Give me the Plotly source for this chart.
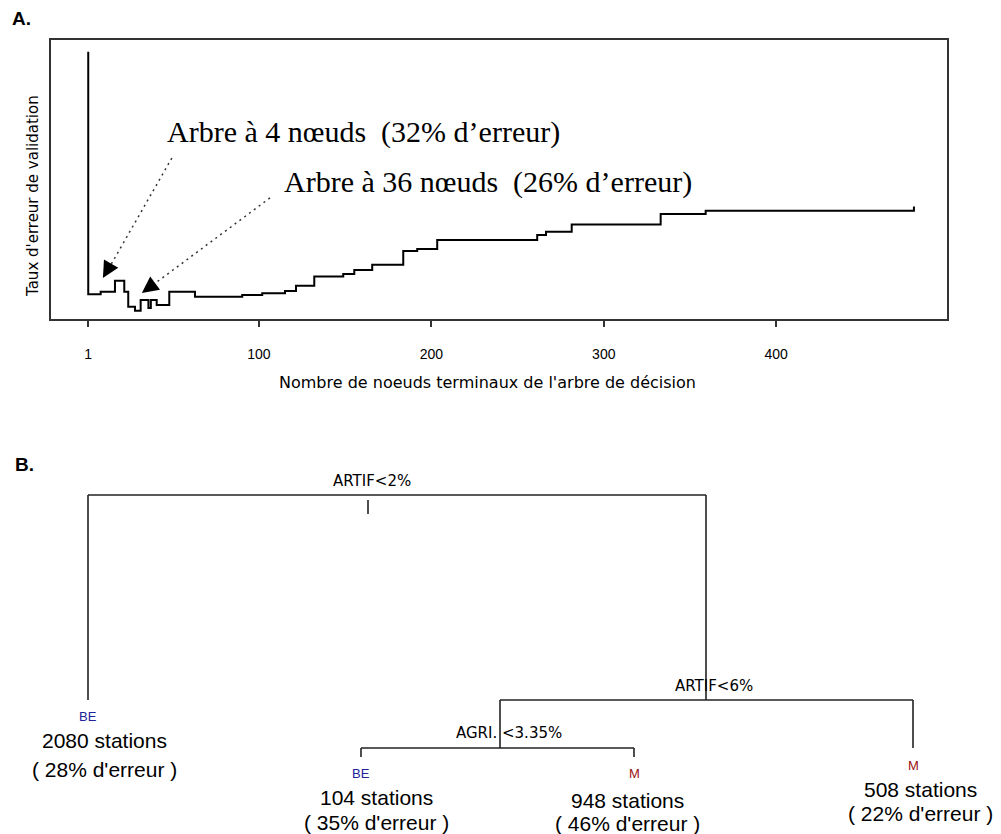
import plotly.graph_objects as go

# ---------------- Panel A data ----------------
n_terminal_nodes = [1, 1, 8.2, 16.5, 21.9, 24.2, 28.1, 31.4, 35.9, 37.3, 40.7, 48, 62.9,
                    90.3, 101.9, 115.1, 121.5, 132.1, 148.9, 155.3, 165.7, 183.7, 191.8,
                    203.4, 261.4, 266.5, 281.4, 333.0, 359.1, 479.9, 479.9]
validation_error = [95.8, 8.9, 9.8, 13.7, 9.8, 4.4, 3.0, 6.8, 3.9, 6.8, 5.0, 9.8, 8.0,
                    8.6, 9.2, 10.0, 11.9, 15.2, 16.1, 17.6, 19.4, 24.4, 25.1,
                    28.3, 30.1, 31.3, 33.9, 37.6, 38.8, 38.8, 40.3]
x_tick_values = [1, 100, 200, 300, 400]
x_tick_labels = ["1", "100", "200", "300", "400"]

annot_texts = ["Arbre à 4 nœuds \u00a0(32% d’erreur)", "Arbre à 36 nœuds \u00a0(26% d’erreur)"]

# ---------------- Panel B data (decision tree) ----------------
split_labels = ["ARTIF<2%", "ARTIF<6%", "AGRI. <3.35%"]
leaf_classes = ["BE", "BE", "M", "M"]
leaf_stations = [2080, 104, 948, 508]
leaf_error_pct = [28, 35, 46, 22]

# ---------------- page geometry ----------------
OFF = 8            # default body margin of the html page
FW, FH = 1001 - OFF, 834 - OFF


def pxx(p):
    return (p - OFF) / FW


def pxy(p):
    return 1 - (p - OFF) / FH


# tree layout (page pixel space)
split_geom = [(88, 706, 495), (500, 913, 700), (361, 634, 748)]
split_label_pos = [(372, 481), (713.5, 686), (509.4, 733)]
leaf_x = [88, 361, 634, 913]
leaf_top = [495, 748, 748, 700]
leaf_bottom = [700, 757, 757, 748]
leaf_class_y = [716, 773, 773, 765]
leaf_text_x = [104, 376, 627, 920]
leaf_text_y = [(740, 769), (797, 822), (800, 823), (789, 813)]
class_colors = {"BE": "#22229c", "M": "#9c1010"}

fig = go.Figure()

fig.add_trace(go.Scatter(
    x=n_terminal_nodes, y=validation_error, mode="lines",
    line=dict(color="black", width=2, shape="hv"),
    xaxis="x", yaxis="y", hoverinfo="skip", showlegend=False))

# tree edges
tx, ty = [], []
for (xl, xr, yl) in split_geom:
    tx += [xl, xr, None]
    ty += [yl, yl, None]
tx += [706, 706, None, 500, 500, None]
ty += [495, 700, None, 700, 748, None]
for lx, t, b in zip(leaf_x, leaf_top, leaf_bottom):
    tx += [lx, lx, None]
    ty += [t, b, None]
tx += [368, 368, None]
ty += [500, 514, None]
fig.add_trace(go.Scatter(
    x=tx, y=ty, mode="lines", line=dict(color="#222", width=1.6),
    xaxis="x2", yaxis="y2", hoverinfo="skip", showlegend=False))

annotations = []
common = dict(showarrow=False, xanchor="center", yanchor="middle")
annotations.append(dict(text="<b>A.</b>", x=pxx(21), y=pxy(18), xref="paper", yref="paper",
                        font=dict(family="Liberation Sans", size=19, color="black"), **common))
annotations.append(dict(text="<b>B.</b>", x=pxx(24), y=pxy(464), xref="paper", yref="paper",
                        font=dict(family="Liberation Sans", size=19, color="black"), **common))
annotations.append(dict(text="Nombre de noeuds terminaux de l'arbre de décision",
                        x=pxx(487), y=pxy(382), xref="paper", yref="paper",
                        font=dict(family="DejaVu Sans", size=16, color="black"), **common))
annotations.append(dict(text="Taux d'erreur de validation", textangle=-90,
                        x=pxx(33), y=pxy(196), xref="paper", yref="paper",
                        font=dict(family="DejaVu Sans", size=15, color="black"), **common))

# arrow annotations (text + head), dotted lines as shapes
text_pos = [(45.5, 67.0), (113.3, 49.1)]
tips = [(9.5, 14.7), (32.1, 9.3)]
tails = [(49.5, 57.7), (106.4, 43.4)]
head_offsets = [(8.0, -13.9), (12.8, -9.5)]
bases = [(14.1, 19.4), (39.6, 12.7)]
shapes = []
for txt, (px, py), (tipx, tipy), (axo, ayo), (tlx, tly), (bx, by) in zip(
        annot_texts, text_pos, tips, head_offsets, tails, bases):
    annotations.append(dict(text=txt, x=px, y=py, xref="x", yref="y", xanchor="left",
                            yanchor="middle", showarrow=False,
                            font=dict(family="Liberation Serif", size=30, color="black")))
    annotations.append(dict(text="", x=tipx, y=tipy, xref="x", yref="y", ax=axo, ay=ayo,
                            showarrow=True, arrowhead=2, arrowsize=2.2, arrowwidth=1.5,
                            arrowcolor="black"))
    shapes.append(dict(type="line", xref="x", yref="y", x0=tlx, y0=tly, x1=bx, y1=by,
                       line=dict(color="#333", width=1.5, dash="2px,4px")))

# tree labels
for lab, (lx, ly) in zip(split_labels, split_label_pos):
    annotations.append(dict(text=lab, x=lx, y=ly, xref="x2", yref="y2",
                            font=dict(family="DejaVu Sans", size=15, color="black"), **common))
for cls, lx, cy, txx, (y1, y2), n, e in zip(leaf_classes, leaf_x, leaf_class_y, leaf_text_x,
                                            leaf_text_y, leaf_stations, leaf_error_pct):
    annotations.append(dict(text=cls, x=lx, y=cy, xref="x2", yref="y2",
                            font=dict(family="Liberation Sans", size=13, color=class_colors[cls]),
                            **common))
    annotations.append(dict(text=f"{n} stations", x=txx, y=y1, xref="x2", yref="y2",
                            font=dict(family="Liberation Sans", size=21, color="black"), **common))
    annotations.append(dict(text=f"( {e}% d'erreur )", x=txx, y=y2, xref="x2", yref="y2",
                            font=dict(family="Liberation Sans", size=21, color="black"), **common))

fig.update_layout(
    width=FW, height=FH, margin=dict(l=0, r=0, t=0, b=0),
    paper_bgcolor="white", plot_bgcolor="white",
    xaxis=dict(domain=[pxx(51), pxx(946.7)], range=[-20.6, 498.9],
               tickvals=x_tick_values, ticktext=x_tick_labels, ticks="outside", ticklen=6,
               tickwidth=1.5, tickcolor="#333", showline=True, mirror=True, linecolor="#333",
               linewidth=2, showgrid=False, zeroline=False, ticklabelstandoff=15,
               tickfont=dict(family="Liberation Sans", size=14, color="black"), anchor="y"),
    yaxis=dict(domain=[pxy(319), pxy(40)], range=[0, 100], showticklabels=False,
               ticks="", showline=True, mirror=True, linecolor="#333", linewidth=2,
               showgrid=False, zeroline=False, anchor="x"),
    xaxis2=dict(domain=[0, 1], range=[OFF, 1001], visible=False, anchor="y2"),
    yaxis2=dict(domain=[0, pxy(440)], range=[834, 440], visible=False, anchor="x2"),
    annotations=annotations, shapes=shapes,
)

fig.write_html("out.html")
